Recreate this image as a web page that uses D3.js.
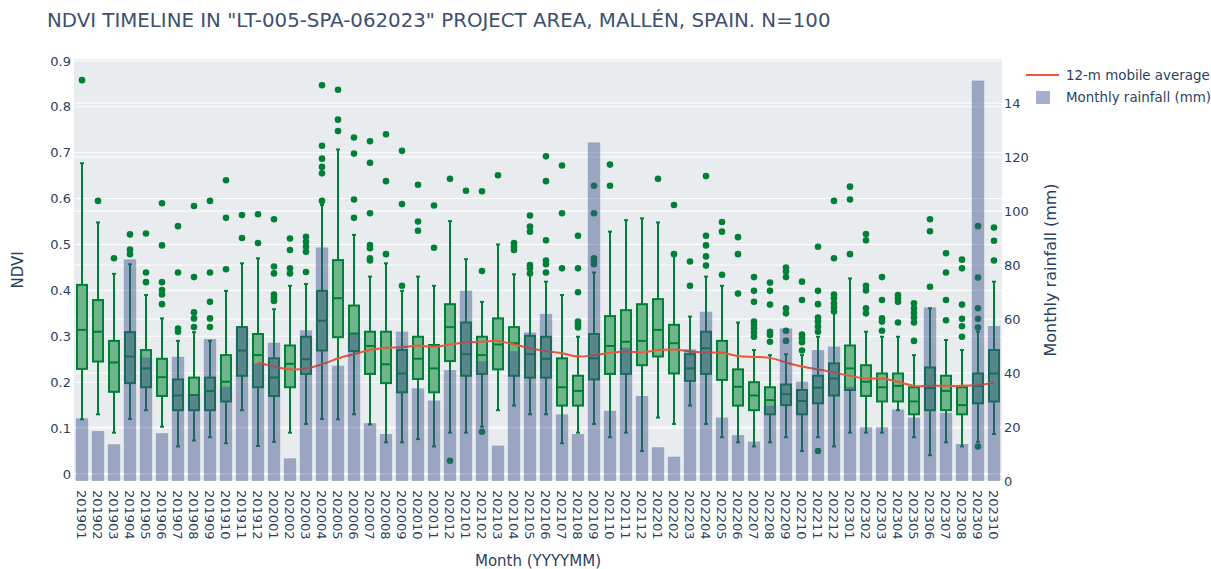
<!DOCTYPE html>
<html>
<head>
<meta charset="utf-8">
<script src="https://cdn.jsdelivr.net/npm/d3@7"></script>
<style>
  body { margin: 0; background: #fff; }
  svg { display: block; font-family: "DejaVu Sans", Verdana, sans-serif; }
</style>
</head>
<body>
<svg width="1211" height="569"></svg>
<script>
// months (YYYYMM)
var months = ["201901","201902","201903","201904","201905","201906","201907","201908","201909","201910","201911","201912",
  "202001","202002","202003","202004","202005","202006","202007","202008","202009","202010","202011","202012",
  "202101","202102","202103","202104","202105","202106","202107","202108","202109","202110","202111","202112",
  "202201","202202","202203","202204","202205","202206","202207","202208","202209","202210","202211","202212",
  "202301","202302","202303","202304","202305","202306","202307","202308","202309","202310"];

// monthly rainfall (mm)
var rainfall = [23.2,18.5,13.6,82.1,45.7,17.7,46.0,32.1,52.6,34.9,57.2,43.6,
  51.2,8.4,55.8,86.5,42.7,54.9,21.4,17.4,55.3,34.3,29.8,41.1,
  70.5,44.4,13.1,48.1,55.0,61.9,24.7,17.4,125.4,26.0,49.4,31.5,
  12.5,9.0,48.8,62.7,23.5,17.0,14.6,27.9,56.5,36.8,48.5,49.8,
  34.9,19.9,19.9,26.5,23.5,64.3,25.3,13.7,148.3,57.4];

// NDVI box statistics
var upperWhisker = [0.677,0.548,0.436,0.457,0.390,0.339,0.290,0.309,0.290,0.399,0.459,0.470,
  0.359,0.410,0.414,0.586,0.707,0.521,0.430,0.459,0.399,0.430,0.410,0.551,
  0.468,0.375,0.500,0.435,0.453,0.419,0.390,0.299,0.439,0.528,0.553,0.557,
  0.548,0.477,0.343,0.430,0.410,0.330,0.270,0.259,0.261,0.259,0.299,0.390,
  0.426,0.310,0.299,0.299,0.259,0.361,0.292,0.270,0.310,0.419];
var q3 = [0.412,0.379,0.290,0.309,0.270,0.251,0.206,0.210,0.210,0.259,0.320,0.305,
  0.252,0.280,0.299,0.399,0.466,0.367,0.310,0.310,0.270,0.299,0.281,0.370,
  0.330,0.299,0.339,0.320,0.301,0.299,0.252,0.214,0.305,0.344,0.357,0.370,
  0.381,0.325,0.261,0.310,0.290,0.228,0.200,0.189,0.195,0.183,0.214,0.241,
  0.280,0.237,0.219,0.219,0.189,0.232,0.214,0.189,0.219,0.270];
var median = [0.314,0.310,0.243,0.256,0.230,0.211,0.171,0.172,0.181,0.201,0.269,0.259,
  0.210,0.240,0.250,0.334,0.383,0.306,0.279,0.239,0.219,0.251,0.230,0.320,
  0.261,0.259,0.282,0.285,0.261,0.251,0.189,0.181,0.252,0.279,0.288,0.290,
  0.314,0.285,0.230,0.274,0.264,0.190,0.171,0.161,0.174,0.159,0.188,0.208,
  0.230,0.201,0.189,0.192,0.158,0.187,0.181,0.150,0.192,0.219];
var q1 = [0.229,0.245,0.179,0.198,0.189,0.170,0.139,0.139,0.139,0.158,0.214,0.189,
  0.170,0.189,0.218,0.269,0.298,0.268,0.218,0.198,0.178,0.207,0.178,0.246,
  0.214,0.218,0.228,0.214,0.210,0.210,0.149,0.149,0.206,0.218,0.218,0.237,
  0.256,0.219,0.203,0.218,0.205,0.149,0.139,0.130,0.150,0.130,0.154,0.171,
  0.183,0.170,0.158,0.158,0.130,0.139,0.139,0.130,0.154,0.158];
var lowerWhisker = [0.119,0.130,0.090,0.120,0.139,0.103,0.060,0.073,0.080,0.067,0.139,0.061,
  0.070,0.090,0.109,0.120,0.119,0.130,0.108,0.069,0.069,0.076,0.060,0.090,
  0.090,0.103,0.139,0.149,0.130,0.130,0.067,0.090,0.109,0.080,0.090,0.050,
  0.123,0.109,0.149,0.109,0.080,0.069,0.060,0.069,0.080,0.050,0.080,0.060,
  0.090,0.090,0.090,0.139,0.080,0.041,0.069,0.060,0.070,0.087];
var outliers = [
  [0.858],[0.595],[0.470],[0.522,0.489,0.479],[0.524,0.439,0.418],
  [0.590,0.498,0.418,0.401,0.391,0.370],[0.540,0.439,0.317,0.310],
  [0.584,0.429,0.352,0.339,0.320],[0.595,0.439,0.375,0.339,0.320],[0.640,0.558,0.446],
  [0.564,0.514],[0.566,0.503],
  [0.555,0.452,0.437,0.391,0.384,0.377],[0.513,0.488,0.448,0.437],
  [0.517,0.506,0.495,0.484,0.440],[0.847,0.715,0.687,0.669,0.655,0.595],
  [0.837,0.772,0.747],[0.733,0.698,0.598,0.558],
  [0.725,0.678,0.568,0.499,0.492,0.470,0.465],[0.740,0.638,0.479],
  [0.704,0.588,0.410],[0.630,0.550,0.530],[0.585,0.493],[0.643,0.029],
  [0.617],[0.616,0.442,0.092],[0.651],[0.503,0.495,0.488],
  [0.563,0.539,0.528,0.455,0.448,0.437],[0.692,0.638,0.509,0.465,0.457,0.439],
  [0.672,0.568,0.448],[0.519,0.448,0.396,0.332,0.326,0.319],
  [0.628,0.568,0.470,0.464,0.457],[0.674,0.628],[],[],
  [0.643],[0.586,0.479],[0.463,0.410],[0.649,0.519,0.498,0.474,0.454],
  [0.549,0.528,0.434],[0.516,0.479,0.393],
  [0.429,0.399,0.375,0.332,0.325,0.317,0.308,0.299],
  [0.417,0.399,0.369,0.310,0.303,0.288],
  [0.450,0.441,0.429,0.361,0.350,0.312,0.290],
  [0.419,0.379,0.304,0.296,0.287,0.269],
  [0.495,0.399,0.370,0.341,0.332,0.321,0.310,0.050],
  [0.595,0.470,0.391,0.383,0.372,0.363,0.354],
  [0.626,0.598,0.479],[0.523,0.509,0.410,0.400,0.361,0.350],
  [0.429,0.379,0.339,0.332,0.312],[0.390,0.383,0.375,0.330],
  [0.372,0.361,0.351,0.341,0.330,0.290],[0.555,0.529,0.408],
  [0.481,0.439,0.379,0.335],[0.467,0.448,0.369,0.338,0.322,0.299],
  [0.540,0.428,0.361,0.338,0.319,0.060],[0.537,0.508,0.465]
];

// 12-month mobile average of NDVI (starts at 201912)
var mobileAvg = [null,null,null,null,null,null,null,null,null,null,null,0.243,
  0.234,0.228,0.230,0.239,0.252,0.261,0.270,0.275,0.276,0.280,0.277,0.282,
  0.287,0.288,0.290,0.282,0.274,0.268,0.263,0.256,0.259,0.264,0.267,0.265,
  0.270,0.271,0.267,0.265,0.264,0.257,0.255,0.253,0.243,0.234,0.228,0.221,
  0.214,0.208,0.208,0.201,0.192,0.192,0.192,0.192,0.194,0.199];

var yTicksL = [0, 0.1, 0.2, 0.3, 0.4, 0.5, 0.6, 0.7, 0.8, 0.9];
var yTicksR = [0, 20, 40, 60, 80, 100, 120, 140];

var plotL = 74, plotR = 1002, plotT = 59, plotB = 481;
var green = "#008037", textColor = "#2a3f5f";

var svg = d3.select("svg");

var x = d3.scaleBand().domain(months).range([plotL, plotR]);
var yL = d3.scaleLinear().domain([-0.01525, 0.9041]).range([plotB, plotT]);
var yR = d3.scaleLinear().domain([0, 156.3]).range([plotB, plotT]);

// title
svg.append("text")
    .attr("x", 47).attr("y", 26.5)
    .style("font-size", "19.8px").attr("fill", "#3d5070")
    .text('NDVI TIMELINE IN "LT-005-SPA-062023" PROJECT AREA, MALLÉN, SPAIN. N=100');

// plot background
svg.append("rect")
    .attr("x", plotL).attr("y", plotT)
    .attr("width", plotR - plotL).attr("height", plotB - plotT)
    .attr("fill", "#e8ecef");

// gridlines for both axes
svg.append("g").selectAll("line")
    .data(yTicksL).enter().append("line")
    .attr("x1", plotL).attr("x2", plotR)
    .attr("y1", function(d) { return yL(d); })
    .attr("y2", function(d) { return yL(d); })
    .attr("stroke", "#fff")
    .attr("stroke-width", function(d) { return d == 0 ? 2 : 1; });

svg.append("g").selectAll("line")
    .data(yTicksR).enter().append("line")
    .attr("x1", plotL).attr("x2", plotR)
    .attr("y1", function(d) { return yR(d); })
    .attr("y2", function(d) { return yR(d); })
    .attr("stroke", "#fff")
    .attr("stroke-width", function(d) { return d == 0 ? 2 : 1; });

// boxes
var boxW = 10, capW = 4;
var boxes = svg.append("g").selectAll("g")
    .data(months).enter().append("g")
    .attr("transform", function(d) { return "translate(" + (x(d) + x.bandwidth() / 2) + ",0)"; });

boxes.append("line")
    .attr("y1", function(d, i) { return yL(upperWhisker[i]); })
    .attr("y2", function(d, i) { return yL(lowerWhisker[i]); })
    .attr("stroke", green).attr("stroke-width", 2);

boxes.append("line")
    .attr("x1", -capW / 2).attr("x2", capW / 2)
    .attr("y1", function(d, i) { return yL(upperWhisker[i]); })
    .attr("y2", function(d, i) { return yL(upperWhisker[i]); })
    .attr("stroke", green).attr("stroke-width", 2);

boxes.append("line")
    .attr("x1", -capW / 2).attr("x2", capW / 2)
    .attr("y1", function(d, i) { return yL(lowerWhisker[i]); })
    .attr("y2", function(d, i) { return yL(lowerWhisker[i]); })
    .attr("stroke", green).attr("stroke-width", 2);

boxes.append("rect")
    .attr("x", -boxW / 2).attr("width", boxW)
    .attr("y", function(d, i) { return yL(q3[i]); })
    .attr("height", function(d, i) { return yL(q1[i]) - yL(q3[i]); })
    .attr("fill", "#6fb58b")
    .attr("stroke", green).attr("stroke-width", 2);

boxes.append("line")
    .attr("x1", -boxW / 2).attr("x2", boxW / 2)
    .attr("y1", function(d, i) { return yL(median[i]); })
    .attr("y2", function(d, i) { return yL(median[i]); })
    .attr("stroke", green).attr("stroke-width", 2);

boxes.selectAll("circle")
    .data(function(d, i) { return outliers[i]; })
    .enter().append("circle")
    .attr("cy", function(v) { return yL(v); })
    .attr("r", 3.3)
    .attr("fill", green);

// 12-m mobile average
var line = d3.line()
    .defined(function(d) { return d != null; })
    .x(function(d, i) { return x(months[i]) + x.bandwidth() / 2; })
    .y(function(d) { return yL(d); })
    .curve(d3.curveCatmullRom);

svg.append("path")
    .datum(mobileAvg)
    .attr("d", line)
    .attr("fill", "none")
    .attr("stroke", "#ef553b")
    .attr("stroke-width", 2);

// rainfall bars (secondary axis, drawn on top)
var barW = x.bandwidth() * 0.77;
svg.append("g").selectAll("rect")
    .data(rainfall).enter().append("rect")
    .attr("x", function(d, i) { return x(months[i]) + (x.bandwidth() - barW) / 2; })
    .attr("width", barW)
    .attr("y", function(d) { return yR(d); })
    .attr("height", function(d) { return yR(0) - yR(d); })
    .attr("fill", "rgba(60,80,140,0.45)");

// axes
var axisL = svg.append("g")
    .attr("transform", "translate(" + plotL + ",0)")
    .call(d3.axisLeft(yL).tickValues(yTicksL).tickSize(0).tickPadding(3)
        .tickFormat(function(d) { return d == 0 ? "0" : d3.format(".1f")(d); }));

var axisR = svg.append("g")
    .attr("transform", "translate(" + plotR + ",0)")
    .call(d3.axisRight(yR).tickValues(yTicksR).tickSize(0).tickPadding(2));

var axisB = svg.append("g")
    .attr("transform", "translate(0," + plotB + ")")
    .call(d3.axisBottom(x).tickSize(0));

axisB.selectAll("text")
    .attr("y", 0).attr("x", 9).attr("dy", "0.35em")
    .attr("transform", "rotate(90)")
    .style("text-anchor", "start");

[axisL, axisR, axisB].forEach(function(a) {
    a.select(".domain").remove();
    a.selectAll("text")
        .attr("fill", textColor)
        .style("font-size", "13px")
        .style("font-family", '"DejaVu Sans", Verdana, sans-serif');
});

// axis titles
svg.append("text")
    .attr("transform", "translate(23,270) rotate(-90)")
    .attr("text-anchor", "middle")
    .style("font-size", "15px").attr("fill", textColor)
    .text("NDVI");

svg.append("text")
    .attr("x", (plotL + plotR) / 2).attr("y", 566)
    .attr("text-anchor", "middle")
    .style("font-size", "15px").attr("fill", textColor)
    .text("Month (YYYYMM)");

svg.append("text")
    .attr("transform", "translate(1056,270) rotate(-90)")
    .attr("text-anchor", "middle")
    .style("font-size", "16px").attr("fill", textColor)
    .text("Monthly rainfall (mm)");

// legend
var legend = svg.append("g");
legend.append("rect")
    .attr("x", 1020).attr("y", 62).attr("width", 191).attr("height", 48)
    .attr("fill", "#fff");
legend.append("line")
    .attr("x1", 1026).attr("x2", 1059).attr("y1", 75).attr("y2", 75)
    .attr("stroke", "#ef553b").attr("stroke-width", 2);
legend.append("text")
    .attr("x", 1066).attr("y", 80)
    .style("font-size", "13.4px").attr("fill", textColor)
    .text("12-m mobile average");
legend.append("rect")
    .attr("x", 1036).attr("y", 91).attr("width", 14).attr("height", 13)
    .attr("fill", "rgba(60,80,140,0.45)");
legend.append("text")
    .attr("x", 1066).attr("y", 102)
    .style("font-size", "13.4px").attr("fill", textColor)
    .text("Monthly rainfall (mm)");
</script>
</body>
</html>
